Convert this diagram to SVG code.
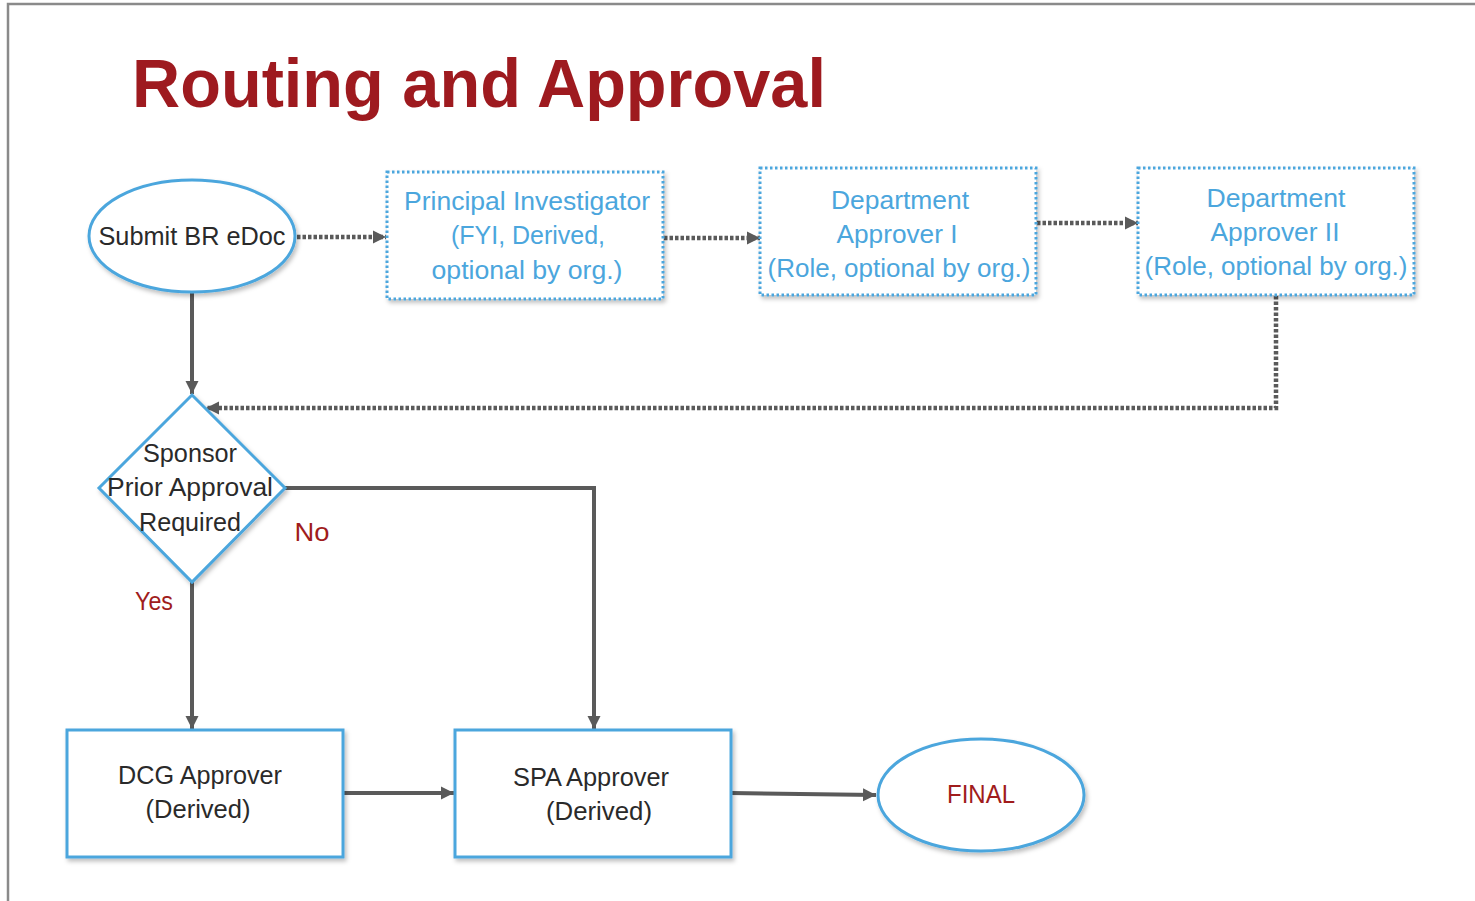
<svg xmlns="http://www.w3.org/2000/svg" width="1475" height="901" viewBox="0 0 1475 901">
<defs>
<style>
.t{font-family:"Liberation Sans",Arial,sans-serif;font-size:25px;text-anchor:middle}
.blue{fill:#4BA6DD}
.dark{fill:#2A2A2A}
.red{fill:#A01C1C}
.node{fill:#fff;stroke:#4BA6DD;stroke-width:3}
.dnode{fill:#fff;stroke:#4BA6DD;stroke-width:3;stroke-dasharray:2.5 2.5}
.solid{fill:none;stroke:#5A5A5A;stroke-width:4}
.dot{fill:none;stroke:#5A5A5A;stroke-width:4.5;stroke-dasharray:3.5 2}
</style>
<filter id="sh" x="-10%" y="-10%" width="130%" height="130%">
<feDropShadow dx="2" dy="3" stdDeviation="2" flood-color="#000" flood-opacity="0.25"/>
</filter>
<marker id="ah" markerUnits="userSpaceOnUse" markerWidth="15" markerHeight="15" refX="13" refY="7.5" orient="auto">
<path d="M0,1 L13,7.5 L0,14 Z" fill="#5A5A5A"/>
</marker>
</defs>
<rect width="1475" height="901" fill="#fff"/>
<path d="M8,901 V4 H1475" fill="none" stroke="#8A8A8A" stroke-width="2.5"/>
<text x="132" y="107" font-family="Liberation Sans,Arial,sans-serif" font-weight="bold" font-size="68" fill="#9E1A1F" textLength="694" lengthAdjust="spacingAndGlyphs">Routing and Approval</text>

<g id="connectors">
<path class="dot" d="M297,237 H386" marker-end="url(#ah)"/>
<path class="dot" d="M664,238 H760" marker-end="url(#ah)"/>
<path class="dot" d="M1037,223 H1138" marker-end="url(#ah)"/>
<path class="dot" d="M1276,296 V408 H206" marker-end="url(#ah)"/>
<path class="solid" d="M192,293 V394" marker-end="url(#ah)"/>
<path class="solid" d="M285,488 H594 V729" marker-end="url(#ah)"/>
<path class="solid" d="M192,582 V729" marker-end="url(#ah)"/>
<path class="solid" d="M344,793 H454" marker-end="url(#ah)"/>
<path class="solid" d="M731,793 L876,795" marker-end="url(#ah)"/>
</g>

<g id="submit">
<ellipse class="node" cx="192" cy="236" rx="103" ry="56" filter="url(#sh)"/>
<text class="t dark" x="192" y="245" textLength="187" lengthAdjust="spacingAndGlyphs">Submit  BR eDoc</text>
</g>

<g id="pi">
<rect class="dnode" x="387" y="172" width="276" height="127" filter="url(#sh)"/>
<text class="t blue" x="527" y="210" textLength="246" lengthAdjust="spacingAndGlyphs">Principal Investigator</text>
<text class="t blue" x="528" y="244" textLength="154" lengthAdjust="spacingAndGlyphs">(FYI, Derived,</text>
<text class="t blue" x="527" y="279" textLength="191" lengthAdjust="spacingAndGlyphs">optional by org.)</text>
</g>

<g id="dept1">
<rect class="dnode" x="760" y="168" width="276" height="127" filter="url(#sh)"/>
<text class="t blue" x="900" y="209" textLength="138" lengthAdjust="spacingAndGlyphs">Department</text>
<text class="t blue" x="897" y="243" textLength="121" lengthAdjust="spacingAndGlyphs">Approver I</text>
<text class="t blue" x="899" y="277" textLength="263" lengthAdjust="spacingAndGlyphs">(Role, optional by org.)</text>
</g>

<g id="dept2">
<rect class="dnode" x="1138" y="168" width="276" height="127" filter="url(#sh)"/>
<text class="t blue" x="1276" y="207" textLength="139" lengthAdjust="spacingAndGlyphs">Department</text>
<text class="t blue" x="1275" y="241" textLength="129" lengthAdjust="spacingAndGlyphs">Approver II</text>
<text class="t blue" x="1276" y="275" textLength="263" lengthAdjust="spacingAndGlyphs">(Role, optional by org.)</text>
</g>

<g id="decision">
<path class="node" d="M192,395 L285,488 L192,582 L99,488 Z" filter="url(#sh)"/>
<text class="t dark" x="190" y="462" textLength="94" lengthAdjust="spacingAndGlyphs">Sponsor</text>
<text class="t dark" x="190" y="496" textLength="166" lengthAdjust="spacingAndGlyphs">Prior Approval</text>
<text class="t dark" x="190" y="531" textLength="102" lengthAdjust="spacingAndGlyphs">Required</text>
</g>

<g id="labels">
<text class="t red" x="312" y="541" textLength="35" lengthAdjust="spacingAndGlyphs">No</text>
<text class="t red" x="154" y="610" textLength="38" lengthAdjust="spacingAndGlyphs">Yes</text>
</g>

<g id="dcg">
<rect class="node" x="67" y="730" width="276" height="127" filter="url(#sh)"/>
<text class="t dark" x="200" y="784" textLength="164" lengthAdjust="spacingAndGlyphs">DCG Approver</text>
<text class="t dark" x="198" y="818" textLength="105" lengthAdjust="spacingAndGlyphs">(Derived)</text>
</g>

<g id="spa">
<rect class="node" x="455" y="730" width="276" height="127" filter="url(#sh)"/>
<text class="t dark" x="591" y="786" textLength="156" lengthAdjust="spacingAndGlyphs">SPA Approver</text>
<text class="t dark" x="599" y="820" textLength="106" lengthAdjust="spacingAndGlyphs">(Derived)</text>
</g>

<g id="final">
<ellipse class="node" cx="981" cy="795" rx="103" ry="56" filter="url(#sh)"/>
<text class="t red" x="981" y="803" textLength="68" lengthAdjust="spacingAndGlyphs">FINAL</text>
</g>
</svg>
